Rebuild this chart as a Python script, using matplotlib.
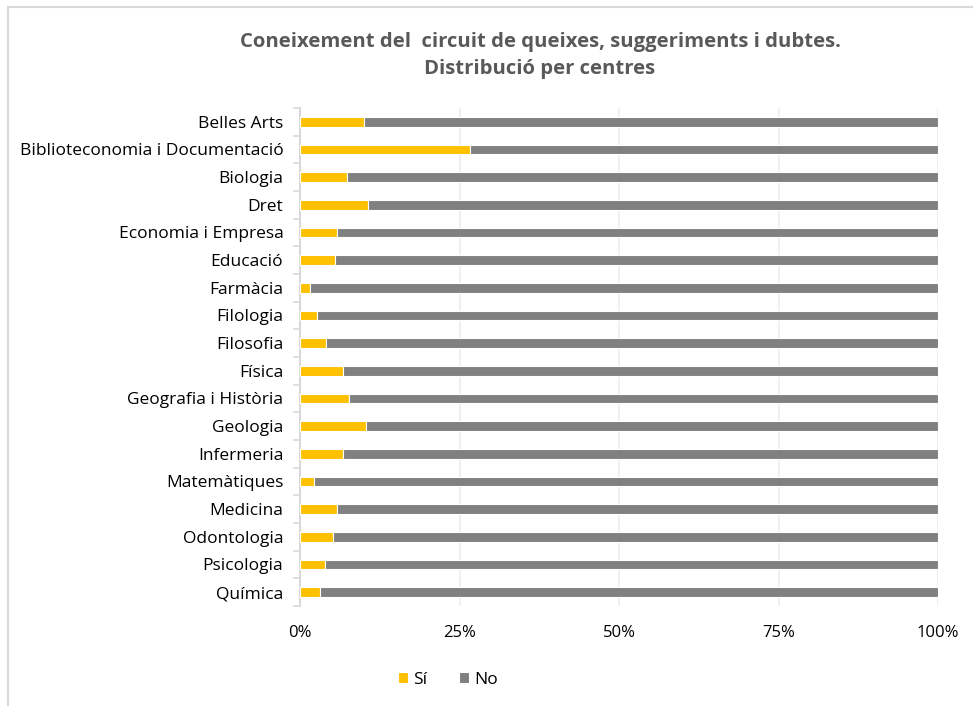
import matplotlib.pyplot as plt
from matplotlib.patches import Rectangle
from matplotlib.ticker import FixedLocator, PercentFormatter
import numpy as np

centres = [
    "Belles Arts", "Biblioteconomia i Documentació", "Biologia", "Dret",
    "Economia i Empresa", "Educació", "Farmàcia", "Filologia", "Filosofia",
    "Física", "Geografia i Història", "Geologia", "Infermeria",
    "Matemàtiques", "Medicina", "Odontologia", "Psicologia", "Química",
]
si = [10.1, 26.7, 7.4, 10.7, 5.8, 5.5, 1.6, 2.7, 4.1,
      6.8, 7.7, 10.3, 6.8, 2.2, 5.8, 5.1, 3.9, 3.2]
no = [100 - v for v in si]
x_ticks = [0, 25, 50, 75, 100]

plt.rcParams["font.family"] = ["Open Sans", "DejaVu Sans"]

fig = plt.figure(figsize=(9.73, 7.06), dpi=100)
ax = fig.add_axes([300 / 973, 1 - 606 / 706, 638 / 973, 498 / 706])

# outer frame like the Excel chart area
fig.patches.append(Rectangle((8 / 973, -0.1), 1.2, 1 - 7 / 706 + 0.1,
                             transform=fig.transFigure, fill=False,
                             edgecolor="#d9d9d9", linewidth=1.5))

y = np.arange(len(centres))
ax.barh(y, si, height=0.36, color="#FFC000", edgecolor="white",
        linewidth=0.8, label="Sí", zorder=3)
ax.barh(y, no, left=si, height=0.36, color="#808080", edgecolor="white",
        linewidth=0.8, label="No", zorder=3)

ax.set_ylim(len(centres) - 0.5, -0.5)
ax.set_xlim(0, 100)
ax.set_yticks(y)
ax.set_yticklabels(centres, fontsize=12.5, color="#000000")
ax.yaxis.set_minor_locator(FixedLocator(np.arange(-0.5, len(centres), 1)))
ax.tick_params(axis="y", which="major", length=0, pad=12)
ax.tick_params(axis="y", which="minor", length=5, width=1.2, color="#d9d9d9")

ax.set_xticks(x_ticks)
ax.xaxis.set_major_formatter(PercentFormatter(decimals=0))
ax.tick_params(axis="x", length=0, labelsize=12, pad=14)
ax.grid(axis="x", color="#eeeeee", linewidth=1.2, zorder=0)

for side in ["top", "right", "bottom"]:
    ax.spines[side].set_visible(False)
ax.spines["left"].set_color("#d9d9d9")
ax.spines["left"].set_linewidth(1.5)

fig.text(540 / 973, 1 - 42 / 706,
         "Coneixement del  circuit de queixes, suggeriments i dubtes.",
         ha="center", va="center", fontsize=14.6, fontweight="bold", color="#595959")
fig.text(540 / 973, 1 - 69 / 706, "Distribució per centres",
         ha="center", va="center", fontsize=14.6, fontweight="bold", color="#595959")

fig.legend(loc="center", bbox_to_anchor=(448 / 973, 1 - 680 / 706), ncol=2,
           frameon=False, fontsize=12.5, handlelength=0.6, handleheight=0.6,
           handletextpad=0.3, columnspacing=1.8)

fig.savefig("out.png", dpi=100)
